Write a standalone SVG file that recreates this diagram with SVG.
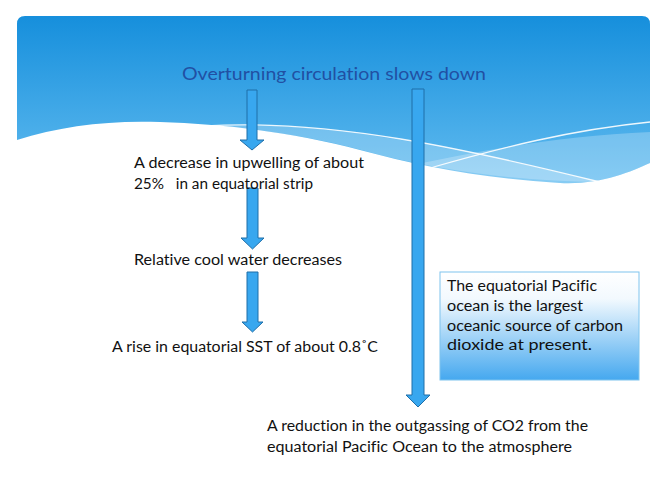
<svg xmlns="http://www.w3.org/2000/svg" width="667" height="500" viewBox="0 0 667 500">
<defs>
<linearGradient id="hdr" x1="0" y1="16" x2="0" y2="185" gradientUnits="userSpaceOnUse">
<stop offset="0" stop-color="#168fdc"/>
<stop offset="1" stop-color="#62bcf0"/>
</linearGradient>
<linearGradient id="box" x1="0" y1="0" x2="0" y2="1">
<stop offset="0" stop-color="#ffffff"/>
<stop offset="0.25" stop-color="#f2f9fe"/>
<stop offset="1" stop-color="#45a8ef"/>
</linearGradient>
<style>
.t{font-family:Lato,"Open Sans","Liberation Sans",sans-serif;font-size:15.5px;fill:#111;white-space:pre;font-variant-ligatures:none}
.ttl{font-family:Lato,"Open Sans","Liberation Sans",sans-serif;font-size:18px;fill:#2150a3;font-variant-ligatures:none}
.arr{fill:#38a7ef;stroke:#1f6ea8;stroke-width:1}
.wl{fill:none;stroke:#ffffff;stroke-width:1.3;opacity:0.9}
.ov{fill:#ffffff;opacity:0.24}
</style>
</defs>
<rect width="667" height="500" fill="#ffffff"/>
<g id="header">
<path d="M17,140 C60,126 110,120 160,122 C230,124 300,134 360,150 C420,166 480,178 560,183 C600,185 630,172 650,163 V24 Q650,16 642,16 H25 Q17,16 17,24 Z" fill="url(#hdr)"/>
<path class="ov" d="M200,127 C330,118 460,150 600,182 C520,182 440,170 380,155 C320,138 260,128 200,127 Z"/>
<path class="ov" d="M400,168 C480,150 560,136 650,132 V163 C630,172 600,185 560,183 C500,181 450,175 400,168 Z"/>
<path class="wl" d="M205,126 C330,118 470,150 600,182"/>
<path class="wl" d="M430,168 C500,148 570,130 650,122"/>
</g>
<g id="connectors">
<polygon class="arr" points="247,90 257,90 257,140 264,140 252,150 240,140 247,140"/>
<polygon class="arr" points="412,89 424,89 424,395 430,395 418,407 406,395 412,395"/>
<polygon class="arr" points="247,188 258,188 258,238 264,238 252.5,249 241,238 247,238"/>
<polygon class="arr" points="247,272 258,272 258,322 263,322 252.5,332 242,322 247,322"/>
</g>
<g id="n-title"><text class="ttl" x="182" y="80" textLength="304" lengthAdjust="spacingAndGlyphs">Overturning circulation slows down</text></g>
<g id="n-upwelling">
<text class="t" x="134" y="168" textLength="230" lengthAdjust="spacingAndGlyphs">A decrease in upwelling of about</text>
<text class="t" x="134" y="189" textLength="179" lengthAdjust="spacingAndGlyphs">25%   in an equatorial strip</text>
</g>
<g id="n-cool"><text class="t" x="134" y="265" textLength="208" lengthAdjust="spacingAndGlyphs">Relative cool water decreases</text></g>
<g id="n-sst"><text class="t" x="112" y="352" textLength="266" lengthAdjust="spacingAndGlyphs">A rise in equatorial SST of about 0.8˚C</text></g>
<g id="n-co2">
<text class="t" x="267" y="431" textLength="321" lengthAdjust="spacingAndGlyphs">A reduction in the outgassing of CO2 from the</text>
<text class="t" x="267" y="452" textLength="305" lengthAdjust="spacingAndGlyphs">equatorial Pacific Ocean to the atmosphere</text>
</g>
<g id="n-box">
<rect x="440" y="272" width="199" height="108" fill="url(#box)" stroke="#7fc4ee" stroke-width="1"/>
<text class="t" x="447" y="291" textLength="150" lengthAdjust="spacingAndGlyphs">The equatorial Pacific</text>
<text class="t" x="447" y="311" textLength="136" lengthAdjust="spacingAndGlyphs">ocean is the largest</text>
<text class="t" x="447" y="331" textLength="176" lengthAdjust="spacingAndGlyphs">oceanic source of carbon</text>
<text class="t" x="447" y="350" textLength="145" lengthAdjust="spacingAndGlyphs">dioxide at present.</text>
</g>
</svg>
